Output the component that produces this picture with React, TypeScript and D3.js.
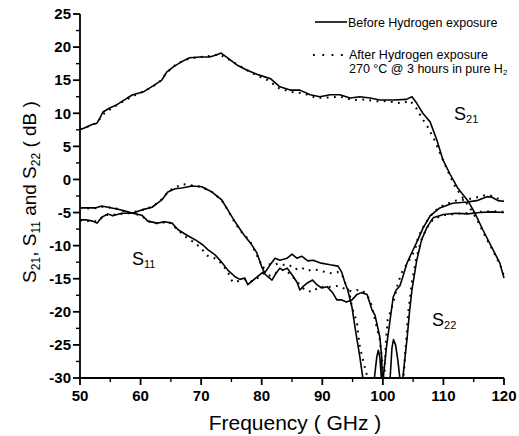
import React from "react";
import * as d3 from "d3";

type P = [number, number];

const xTicks = [50, 60, 70, 80, 90, 100, 110, 120];
const yTicks = [25, 20, 15, 10, 5, 0, -5, -10, -15, -20, -25, -30];

const s21Before: P[] = [[50,7.5],[51,7.9],[52,8.3],[52.8,8.5],[53.3,9.3],[53.8,10.2],[54.9,10.8],[56.1,11.3],[57.8,12.3],[58.7,12.8],[60.4,13.2],[62,14.1],[63.5,15],[64.3,16.2],[65.4,17],[66.8,17.8],[68.1,18.4],[69.8,18.5],[71.4,18.5],[72.5,18.8],[73.3,19.1],[74.75,18.1],[75.9,17.3],[77.6,16.5],[79.2,15.9],[80.5,15.5],[81.5,15.2],[83,14],[84.7,13.5],[86.3,13.5],[88,12.8],[89.6,12.5],[91.3,12.8],[92.9,12.8],[94.6,12.3],[96.2,12.5],[97.9,12.3],[99.5,12],[101.7,12],[103.9,12.1],[104.8,12.5],[105.6,11.5],[106.6,10],[107.8,8.7],[108.9,6],[109.9,3.0],[111.2,0.6],[112.3,-1.2],[113.3,-2.4],[114.1,-3.3],[115.2,-5.1],[116.5,-7.6],[118,-10.3],[119.3,-12.6],[120,-14.9]];

const s21After: P[] = [[50,7.6],[52,8.2],[53,8.8],[54,10],[55.5,10.9],[57.5,12],[59,12.7],[61,13.5],[63,14.6],[64.5,16.3],[66,17.5],[67.5,18.1],[69,18.4],[71,18.6],[73,18.9],[75,17.9],[77,16.8],[79,15.8],[81,15],[83,13.7],[85,13.2],[87,13],[89,12.3],[91,12.4],[93,12.5],[95,12],[97,12.1],[99,11.8],[101,11.8],[103,11.5],[104.5,11.9],[105.5,10.8],[106.5,9.2],[107.5,7.8],[108.5,6],[109.5,3.8],[110.7,1.3],[112,-1.2],[113.2,-2.8],[114.3,-4.2],[115.5,-6],[116.8,-8.4],[118.2,-10.8],[119.4,-13],[120,-14.6]];

const s11Before: P[] = [[50,-4.3],[51,-4.3],[52.5,-4.3],[53.6,-4.0],[54.6,-4.2],[56.3,-4.5],[57.9,-4.9],[58.7,-5.1],[60.2,-5.4],[61.2,-6.3],[62.7,-6.6],[64,-6.4],[65.2,-6.6],[66.2,-7.6],[67.6,-8.4],[69,-9.1],[70.3,-9.9],[71.1,-10.6],[72.3,-11.4],[73.4,-12.5],[74.4,-13.7],[75.6,-14.7],[76.4,-15.1],[77.2,-14.9],[77.7,-15.9],[78.5,-15.3],[79.4,-14.6],[80.2,-14],[81,-14.7],[81.7,-15.2],[82.2,-14.4],[83,-13.4],[83.5,-13.7],[84.2,-13.4],[85,-14.4],[85.8,-15.5],[86.3,-16.7],[86.8,-16.2],[87.6,-15.6],[88.4,-15.2],[89.1,-15.9],[89.9,-16.4],[90.8,-16.2],[91.7,-17.1],[92.4,-18.2],[93.2,-18.2],[94,-18.5],[94.9,-18.2],[95.7,-17.4],[96.5,-17.1],[97.4,-17.4],[98.2,-19.7],[98.7,-20.5],[99.5,-23.8],[99.8,-26.8],[99.9,-30],[99.95,-32],[100.05,-30],[100.6,-25.3],[101.2,-21.2],[101.7,-17.8],[102.2,-16.7],[102.8,-16.1],[103.3,-14.7],[104,-12.6],[104.8,-11],[105.8,-9.1],[106.6,-7.4],[107.8,-5.5],[109.4,-4.3],[111.5,-3.6],[113.9,-3.4],[115.5,-3.2],[117.2,-2.6],[118,-2.7],[119,-3.2],[120,-3.3]];

const s11After: P[] = [[50,-4.3],[52,-4.4],[54,-4.1],[56,-4.4],[58,-5.0],[60,-5.4],[61.5,-6.4],[63,-6.7],[64.5,-6.3],[66,-7.5],[67.5,-8.7],[69,-9.6],[70,-10.4],[71,-11.5],[72.5,-12],[73.5,-12.8],[74.5,-14.2],[75.2,-15.5],[76.5,-15.3],[77.5,-15],[78.3,-15.4],[79.3,-14.9],[80.2,-14.2],[81,-14.6],[82,-14.3],[83,-13.7],[84,-13.7],[85,-14.6],[86,-15.6],[87.1,-16.7],[88.3,-17],[89.6,-16.2],[90.8,-16.3],[92.4,-16.1],[93.7,-16.5],[94.8,-16.9],[95.7,-16.7],[96.7,-16.8],[97.9,-18.2],[98.4,-20],[99,-22.4],[99.5,-24.2],[99.9,-27.5],[100.1,-30],[100.2,-33],[100.25,-30],[100.5,-24.5],[100.8,-21.2],[101.7,-18.7],[102.5,-15.6],[103.3,-13.7],[104.1,-12.6],[105.3,-10.7],[105.8,-8.8],[106.6,-7.3],[107.5,-6],[108.5,-4.8],[110,-3.9],[112,-3.2],[114,-3.0],[116,-2.6],[117.2,-2.3],[118,-2.5],[119,-2.9],[120,-3.1]];

const s22Before: P[] = [[50,-6.1],[51,-6.1],[52.1,-6.3],[52.8,-6.6],[53.6,-5.7],[54.6,-5.2],[55.4,-5.5],[56.9,-5.1],[58.6,-5.1],[60.2,-4.6],[61.9,-4.2],[63.5,-3.1],[64.5,-1.9],[65.7,-1.4],[66.8,-1.3],[68.5,-1.0],[70.1,-1.1],[71.8,-1.9],[73.4,-3.1],[74.4,-4.6],[75.6,-6.4],[76.7,-7.9],[77.5,-8.9],[78.3,-9.8],[79.2,-11.1],[80,-13.2],[80.5,-14.1],[81.4,-12.9],[82.2,-11.9],[83,-12.2],[84.2,-11.9],[85,-11.3],[85.8,-11.9],[86.6,-11.6],[87.6,-12.3],[88.5,-12.2],[89.6,-12.6],[91.3,-12.9],[92.6,-13.1],[93.2,-14],[93.7,-15.5],[94.2,-16.7],[94.9,-19.3],[95.4,-22.3],[96.2,-26.8],[96.7,-30],[97,-33],[98.3,-33],[98.6,-30],[99.0,-26.8],[99.25,-25.8],[99.5,-26.8],[99.75,-30],[100,-33],[101,-33],[101.2,-30],[101.5,-25.5],[101.75,-24.2],[102.1,-25],[102.5,-27.5],[102.8,-30],[103,-33],[103.3,-30],[103.7,-26.5],[104,-24],[104.4,-20],[104.8,-16.7],[105.6,-12.2],[106.4,-9.1],[107.3,-7.2],[108.3,-5.8],[110,-5.3],[112,-5.1],[114,-5.2],[116,-5.0],[118,-4.9],[120,-5.0]];

const s22After: P[] = [[50,-6.2],[52,-6.3],[53,-6.3],[54,-5.4],[56,-5.3],[58,-5.1],[60,-4.7],[62,-4.1],[63.5,-3.0],[64.7,-1.7],[66,-1.1],[67,-0.7],[68.5,-0.9],[70,-1.1],[72,-2.0],[73.5,-3.3],[74.5,-4.8],[75.6,-6.6],[76.8,-8.1],[78,-9.2],[79.5,-12],[80.2,-13.4],[81,-12.8],[82,-12.9],[82.7,-12.7],[83.5,-12.9],[84.5,-12.9],[85.5,-13.6],[86.5,-13.3],[87.5,-13.8],[88.5,-13.6],[89.3,-13.7],[90.5,-14],[91.6,-14.2],[92.5,-14],[93.2,-14.2],[93.7,-15.5],[94.2,-16.4],[94.6,-17.7],[94.9,-19.3],[95.7,-21.5],[96.2,-25.3],[97,-28.3],[97.5,-30],[97.8,-33],[103,-33],[103.4,-30],[103.8,-25],[104.2,-20],[104.8,-15.5],[105.5,-12],[106.3,-9.3],[107.2,-7.4],[108.3,-6],[110,-5.4],[112,-5.2],[114,-5.1],[116,-4.9],[118,-4.8],[120,-4.9]];

const beforeSeries = [s21Before, s11Before, s22Before];
const afterSeries = [s21After, s11After, s22After];

const W = 519, H = 436;
const FONT = "'Liberation Sans', Arial, Helvetica, sans-serif";
const DOTS = "1.8 5.4";

export default function App() {
  const x = d3.scaleLinear().domain([50, 120]).range([80, 504]);
  const y = d3.scaleLinear().domain([-30, 25]).range([378, 14]);
  const line = d3.line<P>().x(d => x(d[0])).y(d => y(d[1]));
  const xMinor = d3.range(55, 120, 10);
  const yMinor = d3.range(-27.5, 25, 5);

  return (
    <svg width={W} height={H} style={{ position: "absolute", left: 0, top: 0, background: "#fff" }} fontFamily={FONT}>
      <defs>
        <clipPath id="plot">
          <rect x={x(50)} y={0} width={x(120) - x(50) + 2} height={y(-30)} />
        </clipPath>
      </defs>
      <rect width={W} height={H} fill="#fff" />
      <g clipPath="url(#plot)" fill="none" stroke="#000">
        {beforeSeries.map((s, i) => (
          <path key={"b" + i} d={line(s) || ""} strokeWidth={1.6} strokeLinejoin="round" />
        ))}
        {afterSeries.map((s, i) => (
          <path key={"a" + i} d={line(s) || ""} strokeWidth={2} strokeDasharray={DOTS} />
        ))}
      </g>
      <g stroke="#000" strokeWidth={1.8}>
        <line x1={x(50)} x2={x(50)} y1={y(25)} y2={y(-30) + 1} />
        <line x1={x(50) - 1} x2={x(120)} y1={y(-30)} y2={y(-30)} />
        {yTicks.map(t => (
          <line key={"yt" + t} x1={x(50) - 7} x2={x(50)} y1={y(t)} y2={y(t)} />
        ))}
        {yMinor.map(t => (
          <line key={"ym" + t} x1={x(50) - 4} x2={x(50)} y1={y(t)} y2={y(t)} strokeWidth={1.4} />
        ))}
        {xTicks.map(t => (
          <line key={"xt" + t} x1={x(t)} x2={x(t)} y1={y(-30)} y2={y(-30) + 7} />
        ))}
        {xMinor.map(t => (
          <line key={"xm" + t} x1={x(t)} x2={x(t)} y1={y(-30)} y2={y(-30) + 4} strokeWidth={1.4} />
        ))}
      </g>
      <g fontWeight="bold" fontSize={15} fill="#000">
        {yTicks.map(t => (
          <text key={"yl" + t} x={x(50) - 9} y={y(t)} dy="0.35em" textAnchor="end">{t}</text>
        ))}
        {xTicks.map(t => (
          <text key={"xl" + t} x={x(t)} y={y(-30) + 23} textAnchor="middle">{t}</text>
        ))}
      </g>
      <text x={295} y={430} fontSize={21} textAnchor="middle" fill="#000">Frequency ( GHz )</text>
      <text transform="translate(36,192) rotate(-90)" fontSize={19} textAnchor="middle" fill="#000">
        <tspan>S</tspan><tspan fontSize={12} dy={4}>21</tspan><tspan dy={-4}>, S</tspan><tspan fontSize={12} dy={4}>11</tspan><tspan dy={-4}> and S</tspan><tspan fontSize={12} dy={4}>22</tspan><tspan dy={-4}> ( dB )</tspan>
      </text>
      <g fill="#000">
        <text x={454} y={120} fontSize={18}>S<tspan fontSize={11} dy={3}>21</tspan></text>
        <text x={132} y={265} fontSize={18}>S<tspan fontSize={11} dy={3}>11</tspan></text>
        <text x={432} y={326} fontSize={18}>S<tspan fontSize={11} dy={3}>22</tspan></text>
      </g>
      <g fill="#000" fontSize={12.5}>
        <line x1={315} x2={347} y1={22} y2={22} stroke="#000" strokeWidth={1.6} />
        <text x={348} y={27}>Before Hydrogen exposure</text>
        <line x1={313} x2={343} y1={55} y2={55} stroke="#000" strokeWidth={2} strokeDasharray="1.8 7.5" />
        <text x={349} y={59}>After Hydrogen exposure</text>
        <text x={349} y={73}>270 °C @ 3 hours in pure H<tspan fontSize={8} dy={2}>2</tspan></text>
      </g>
    </svg>
  );
}
